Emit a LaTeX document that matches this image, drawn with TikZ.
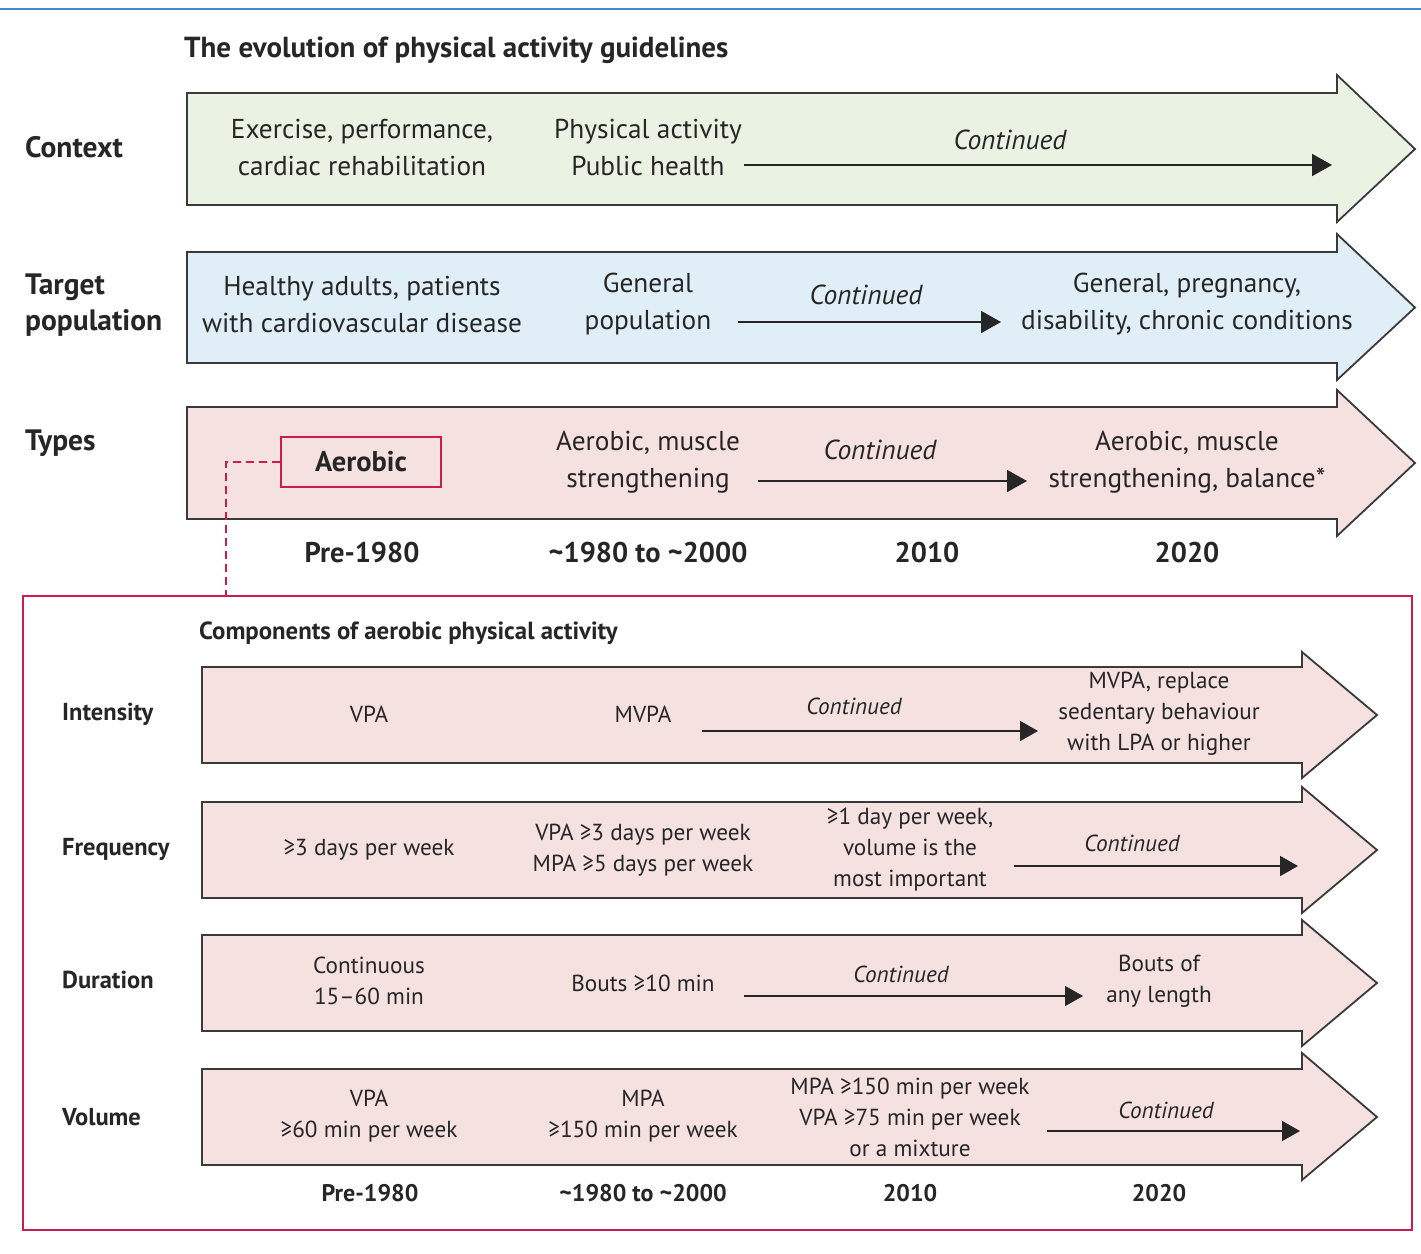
\documentclass[tikz,border=0pt]{standalone}
\usepackage{fontspec}
\setmainfont{PT Sans}
\usetikzlibrary{arrows.meta}
\definecolor{txt}{HTML}{262626}
\definecolor{edge}{HTML}{3A3A3A}
\definecolor{gfill}{HTML}{EAF2E3}
\definecolor{bfill}{HTML}{E0EFF7}
\definecolor{pfill}{HTML}{F5E1E0}
\definecolor{redl}{HTML}{C91E4D}
\definecolor{topline}{HTML}{4A86C8}
\newcommand\bigarrow[8]{\draw[arrowbox, fill=#8] (#1,#3) -- (#2,#3) -- (#2,#5) -- (#7,{(#3+#4)/2}) -- (#2,#6) -- (#2,#4) -- (#1,#4) -- cycle;}
\begin{document}
\begin{tikzpicture}[x=1pt,y=-1pt,
  arrowbox/.style={draw=edge, line width=1.8pt, line join=miter},
  body/.style={font=\fontsize{27.3}{37}\selectfont, text=txt, align=center, inner sep=0pt},
  lbody/.style={font=\fontsize{23.2}{31}\selectfont, text=txt, align=center, inner sep=0pt},
  lab/.style={font=\bfseries\fontsize{29.5}{36}\selectfont, text=txt, align=left, anchor=west, inner sep=0pt},
  llab/.style={font=\bfseries\fontsize{24.5}{28}\selectfont, text=txt, anchor=west, inner sep=0pt},
  cont/.style={font=\itshape\fontsize{27.5}{30}\selectfont, text=txt, inner sep=0pt},
  lcont/.style={font=\itshape\fontsize{23.2}{26}\selectfont, text=txt, inner sep=0pt},
  year/.style={font=\bfseries\fontsize{28.5}{30}\selectfont, text=txt, inner sep=0pt},
  lyear/.style={font=\bfseries\fontsize{24}{26}\selectfont, text=txt, inner sep=0pt},
  conn/.style={draw=txt, line width=1.8pt, -{Triangle[length=20pt,width=22pt]}},
  lconn/.style={draw=txt, line width=1.6pt, -{Triangle[length=18pt,width=20pt]}},
  ttl/.style={font=\bfseries\fontsize{29}{30}\selectfont, text=txt, anchor=west, inner sep=0pt},
  ltitle/.style={font=\bfseries\fontsize{24.8}{26}\selectfont, text=txt, anchor=west, inner sep=0pt}
]
\useasboundingbox (0,0) rectangle (1421,1253);
\fill[white] (0,0) rectangle (1421,1253);
\draw[topline, line width=2pt] (0,9) -- (1421,9);

% ---------- upper part ----------
\node[ttl] (title) at (184,50) {The evolution of physical activity guidelines};

\bigarrow{187}{1337}{93}{205}{75}{222}{1415}{gfill}
\bigarrow{187}{1337}{252}{363}{234}{380}{1415}{bfill}
\bigarrow{187}{1337}{407}{519}{390}{536}{1415}{pfill}

\node[lab] (lctx) at (25,147) {Context};
\node[lab] (ltgt) at (25,305) {Target\\population};
\node[lab] (ltyp) at (25,443) {Types};

% Context row
\node[body] (c1) at (362,147) {Exercise, performance,\\cardiac rehabilitation};
\node[body] (c2) at (648,147) {Physical activity\\Public health};
\node[cont] (c3) at (1010,140) {Continued};
\coordinate (c2s) at (744,165);
\coordinate (c2e) at (1332,165);
\draw[conn] (c2s) -- (c2e);

% Target row
\node[body] (t1) at (362,304) {Healthy adults, patients\\with cardiovascular disease};
\node[body] (t2) at (648,304) {General\\population};
\node[cont] (t3) at (866,295) {Continued};
\node[body] (t4) at (1187,304) {General, pregnancy,\\disability, chronic conditions};
\coordinate (t2s) at (738,322);
\coordinate (t2e) at (1001,322);
\draw[conn] (t2s) -- (t2e);

% Types row
\node[draw=redl, line width=1.8pt, minimum width=160pt, minimum height=50pt, font=\bfseries\fontsize{28.5}{30}\selectfont, text=txt, inner sep=0pt] (aer) at (361,462) {Aerobic};
\node[body] (y2) at (648,462) {Aerobic, muscle\\strengthening};
\node[cont] (y3) at (880,450) {Continued};
\node[body] (y4) at (1187,462) {Aerobic, muscle\\strengthening, balance*};
\coordinate (y2s) at (758,481);
\coordinate (y2e) at (1027,481);
\draw[conn] (y2s) -- (y2e);

\node[year] (p1) at (362,553) {Pre-1980};
\node[year] (p2) at (648,553) {\textasciitilde1980 to \textasciitilde2000};
\node[year] (p3) at (927,553) {2010};
\node[year] (p4) at (1187,553) {2020};

% ---------- lower part ----------
\coordinate (ftop) at (226,596);
\draw[redl, line width=1.8pt] (23,596) rectangle (1412,1230);
\draw[redl, line width=1.6pt, dash pattern=on 8pt off 5pt] (aer.west) -| (ftop);

\node[ltitle] (ctitle) at (199,633) {Components of aerobic physical activity};

\bigarrow{202}{1302}{667}{763}{652}{778}{1377}{pfill}
\bigarrow{202}{1302}{802}{898}{787}{913}{1377}{pfill}
\bigarrow{202}{1302}{935}{1031}{920}{1046}{1377}{pfill}
\bigarrow{202}{1302}{1069}{1165}{1053}{1180}{1377}{pfill}

\node[llab] (lint) at (62,714) {Intensity};
\node[llab] (lfrq) at (62,849) {Frequency};
\node[llab] (ldur) at (62,980) {Duration};
\node[llab] (lvol) at (62,1117) {Volume};

% Intensity
\node[lbody] (i1) at (369,714) {VPA};
\node[lbody] (i2) at (643,714) {MVPA};
\node[lcont] (i3) at (854,706) {Continued};
\node[lbody] (i4) at (1159,714) {MVPA, replace\\sedentary behaviour\\with LPA or higher};
\coordinate (i2s) at (702,731);
\coordinate (i2e) at (1038,731);
\draw[lconn] (i2s) -- (i2e);

% Frequency
\node[lbody] (f1) at (369,850) {≥3 days per week};
\node[lbody] (f2) at (643,850) {VPA ≥3 days per week\\MPA ≥5 days per week};
\node[lbody] (f3) at (910,850) {≥1 day per week,\\volume is the\\most important};
\node[lcont] (f4) at (1132,843) {Continued};
\coordinate (f3s) at (1014,866);
\coordinate (f3e) at (1298,866);
\draw[lconn] (f3s) -- (f3e);

% Duration
\node[lbody] (d1) at (369,981) {Continuous\\15–60 min};
\node[lbody] (d2) at (643,983) {Bouts ≥10 min};
\node[lcont] (d3) at (901,974) {Continued};
\node[lbody] (d4) at (1159,981) {Bouts of\\any length};
\coordinate (d2s) at (744,996);
\coordinate (d2e) at (1083,996);
\draw[lconn] (d2s) -- (d2e);

% Volume
\node[lbody] (v1) at (369,1116) {VPA\\≥60 min per week};
\node[lbody] (v2) at (643,1116) {MPA\\≥150 min per week};
\node[lbody] (v3) at (910,1117) {MPA ≥150 min per week\\VPA ≥75 min per week\\or a mixture};
\node[lcont] (v4) at (1166,1110) {Continued};
\coordinate (v3s) at (1047,1131);
\coordinate (v3e) at (1300,1131);
\draw[lconn] (v3s) -- (v3e);

\node[lyear] (q1) at (370,1193) {Pre-1980};
\node[lyear] (q2) at (643,1193) {\textasciitilde1980 to \textasciitilde2000};
\node[lyear] (q3) at (910,1193) {2010};
\node[lyear] (q4) at (1159,1193) {2020};
\end{tikzpicture}
\end{document}
